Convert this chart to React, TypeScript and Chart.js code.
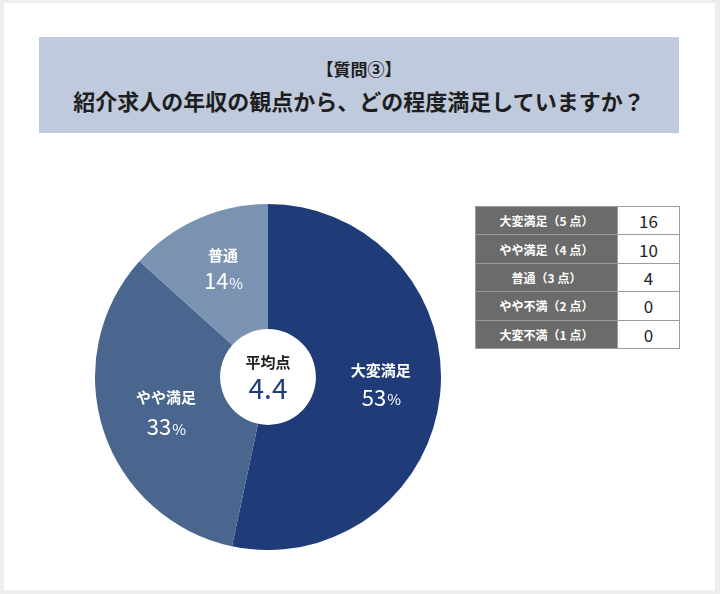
import React, { useEffect, useRef } from "react";
import { Chart, registerables } from "chart.js";

Chart.register(...registerables);

const categories = ["大変満足", "やや満足", "普通"];
const counts = [16, 10, 4];
const pctLabels = ["53", "33", "14"];
const sliceColors = ["#1f3b78", "#4a668f", "#7b93b3"];
const tableLabels = ["大変満足（5 点）", "やや満足（4 点）", "普通（3 点）", "やや不満（2 点）", "大変不満（1 点）"];
const tableValues = [16, 10, 4, 0, 0];
const titleLine1 = "【質問③】";
const titleLine2 = "紹介求人の年収の観点から、どの程度満足していますか？";
const avgLabel = "平均点";
const avgValue = "4.4";

const JP = '"Noto Sans CJK JP", "Noto Sans", sans-serif';

const nudgeX = [3, 3, 0];
const nudgeY = [-3, 1, -6];
const pctGap = [27, 30, 26];

const labelPlugin = {
  id: "sliceLabels",
  afterDatasetsDraw(chart: any) {
    const ctx = chart.ctx;
    const meta = chart.getDatasetMeta(0);
    ctx.save();
    ctx.textAlign = "center";
    ctx.textBaseline = "middle";
    meta.data.forEach((arc: any, i: number) => {
      const p = arc.getCenterPoint();
      const x = p.x + nudgeX[i];
      const y = p.y - 2 + nudgeY[i];
      ctx.fillStyle = "#ffffff";
      ctx.font = `bold 15px ${JP}`;
      ctx.fillText(categories[i], x, y - 13);
      const num = pctLabels[i];
      ctx.font = `400 22px ${JP}`;
      const wn = ctx.measureText(num).width;
      ctx.font = `400 15px ${JP}`;
      const wp = ctx.measureText("%").width;
      const start = x - (wn + wp) / 2;
      const py = y - 13 + pctGap[i];
      ctx.textAlign = "left";
      ctx.font = `400 22px ${JP}`;
      ctx.fillText(num, start, py);
      ctx.font = `400 15px ${JP}`;
      ctx.fillText("%", start + wn + 1, py + 2);
      ctx.textAlign = "center";
    });
    const cx = (chart.chartArea.left + chart.chartArea.right) / 2;
    const cy = (chart.chartArea.top + chart.chartArea.bottom) / 2;
    ctx.fillStyle = "#222222";
    ctx.font = `bold 15px ${JP}`;
    ctx.fillText(avgLabel, cx, cy - 15);
    ctx.fillStyle = "#1f3b78";
    ctx.font = `400 28px ${JP}`;
    ctx.fillText(avgValue, cx, cy + 11);
    ctx.restore();
  },
};

export default function App() {
  const ref = useRef<HTMLCanvasElement>(null);
  useEffect(() => {
    document.body.style.margin = "0";
    const chart = new Chart(ref.current!, {
      type: "doughnut",
      data: {
        labels: categories,
        datasets: [
          {
            data: counts,
            backgroundColor: sliceColors,
            borderWidth: 0,
          },
        ],
      },
      options: {
        animation: false,
        responsive: false,
        maintainAspectRatio: false,
        cutout: "27.7%",
        rotation: 0,
        layout: { padding: 0 },
        plugins: {
          legend: { display: false },
          tooltip: { enabled: false },
          title: { display: false },
        },
      },
      plugins: [labelPlugin],
    });
    return () => chart.destroy();
  }, []);

  const cellBorder = "1px solid #9c9c9c";
  return (
    <div
      style={{
        position: "absolute",
        left: 0,
        top: 0,
        width: 720,
        height: 594,
        background: "#ededed",
        fontFamily: JP,
      }}
    >
      <div
        style={{
          position: "absolute",
          left: 4,
          top: 3,
          width: 711,
          height: 587,
          background: "#ffffff",
        }}
      />
      <div
        style={{
          position: "absolute",
          left: 39,
          top: 37,
          width: 640,
          height: 96,
          background: "#bfcadd",
          color: "#1e1e1e",
          textAlign: "center",
          fontWeight: "bold",
        }}
      >
        <div style={{ position: "absolute", left: 0, right: 0, top: 20, fontSize: 17, lineHeight: "24px" }}>
          {titleLine1}
        </div>
        <div style={{ position: "absolute", left: 0, right: 0, top: 48, fontSize: 22, lineHeight: "30px" }}>
          {titleLine2}
        </div>
      </div>
      <canvas
        ref={ref}
        width={346}
        height={346}
        style={{ position: "absolute", left: 95, top: 204, width: 346, height: 346 }}
      />
      <table
        style={{
          position: "absolute",
          left: 475,
          top: 206,
          width: 205,
          height: 143,
          borderCollapse: "collapse",
          tableLayout: "fixed",
        }}
      >
        <tbody>
          {tableLabels.map((lab, i) => (
            <tr key={i} style={{ height: 28.4 }}>
              <td
                style={{
                  width: 141,
                  padding: 0,
                  background: "#6b6b6b",
                  color: "#ffffff",
                  fontSize: 12,
                  fontWeight: "bold",
                  textAlign: "center",
                  border: cellBorder,
                }}
              >
                {lab}
              </td>
              <td
                style={{
                  padding: 0,
                  background: "#ffffff",
                  color: "#1e1e1e",
                  fontSize: 17,
                  textAlign: "center",
                  border: cellBorder,
                }}
              >
                {tableValues[i]}
              </td>
            </tr>
          ))}
        </tbody>
      </table>
    </div>
  );
}
